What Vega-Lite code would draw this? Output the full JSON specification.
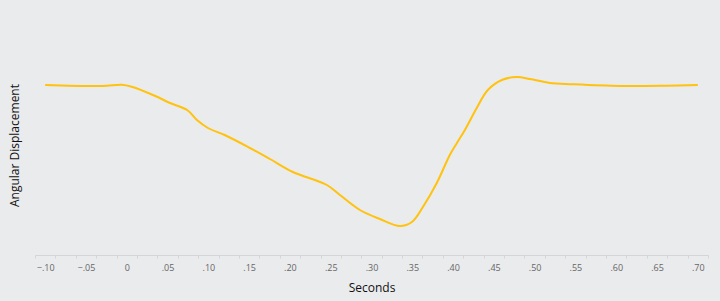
{
  "$schema": "https://vega.github.io/schema/vega-lite/v6.json",
  "width": 673,
  "height": 220,
  "autosize": {"type": "none"},
  "padding": {"left": 35, "top": 35, "right": 12, "bottom": 46},
  "background": "#eaebed",
  "config": {
    "view": {"stroke": null},
    "font": "Open Sans"
  },
  "data": {
    "values": [
      {"t": -0.1, "d": 170},
      {"t": -0.03, "d": 169},
      {"t": -0.006, "d": 170.3},
      {"t": 0.006, "d": 168.3},
      {"t": 0.035, "d": 159},
      {"t": 0.053, "d": 152},
      {"t": 0.074, "d": 145},
      {"t": 0.086, "d": 135},
      {"t": 0.0995, "d": 127},
      {"t": 0.12, "d": 120},
      {"t": 0.151, "d": 107},
      {"t": 0.1755, "d": 96},
      {"t": 0.2037, "d": 83},
      {"t": 0.2453, "d": 70},
      {"t": 0.2613, "d": 60},
      {"t": 0.2858, "d": 45},
      {"t": 0.3103, "d": 36},
      {"t": 0.3348, "d": 29},
      {"t": 0.3495, "d": 33},
      {"t": 0.363, "d": 48},
      {"t": 0.38, "d": 72},
      {"t": 0.396, "d": 100},
      {"t": 0.4047, "d": 112},
      {"t": 0.4145, "d": 125},
      {"t": 0.429, "d": 147},
      {"t": 0.4426, "d": 165},
      {"t": 0.4598, "d": 175},
      {"t": 0.4782, "d": 178},
      {"t": 0.4941, "d": 176},
      {"t": 0.5186, "d": 172},
      {"t": 0.5468, "d": 170.7},
      {"t": 0.6044, "d": 169},
      {"t": 0.662, "d": 169.3},
      {"t": 0.7, "d": 170}
    ]
  },
  "mark": {"type": "line", "color": "#ffc20e", "strokeWidth": 2, "interpolate": "catmull-rom"},
  "encoding": {
    "x": {
      "field": "t",
      "type": "quantitative",
      "scale": {"domain": [-0.1125, 0.7125], "nice": false, "zero": false},
      "axis": {
        "title": "Seconds",
        "titleFontSize": 12,
        "titleFontWeight": "normal",
        "titleColor": "#111111",
        "titlePadding": 10,
        "grid": false,
        "domainColor": "#d4d5d7",
        "tickColor": "#d4d5d7",
        "tickSize": 3,
        "labelPadding": 5,
        "labelFontSize": 9,
        "labelColor": "#666666",
        "labelOffset": 10.2,
        "labelFlush": false,
        "labelOverlap": false,
        "values": [-0.1125, -0.0875, -0.0625, -0.0375, -0.0125, 0.0125, 0.0375, 0.0625, 0.0875, 0.1125, 0.1375, 0.1625, 0.1875, 0.2125, 0.2375, 0.2625, 0.2875, 0.3125, 0.3375, 0.3625, 0.3875, 0.4125, 0.4375, 0.4625, 0.4875, 0.5125, 0.5375, 0.5625, 0.5875, 0.6125, 0.6375, 0.6625, 0.6875, 0.7125],
        "labelExpr": "(round((datum.value + 0.1125) / 0.025) % 2 == 0 && datum.value < 0.7) ? (abs(datum.value + 0.0125) < 0.001 ? '0' : replace(format(datum.value + 0.0125, '.2f'), '0.', '.')) : ''"
      }
    },
    "y": {
      "field": "d",
      "type": "quantitative",
      "scale": {"domain": [0, 220], "nice": false},
      "axis": {
        "title": "Angular Displacement",
        "titleFontSize": 12,
        "titleFontWeight": "normal",
        "titleColor": "#111111",
        "domain": false,
        "ticks": false,
        "labels": false,
        "grid": false,
        "titlePadding": 14
      }
    }
  }
}
